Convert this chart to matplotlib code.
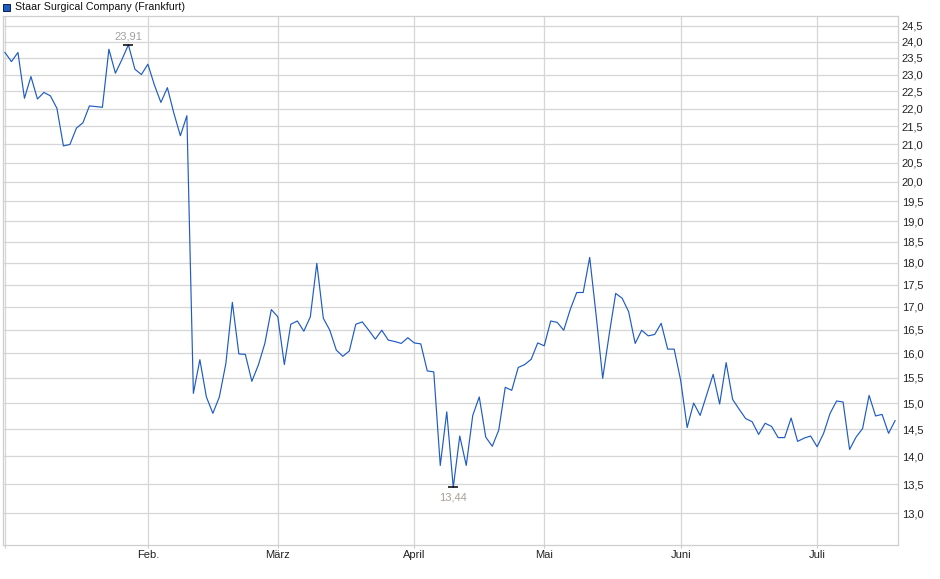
import matplotlib
matplotlib.use("Agg")
import matplotlib.pyplot as plt
from matplotlib.ticker import FixedLocator, FuncFormatter, NullLocator

# Daily closing prices (EUR), Staar Surgical in Frankfurt, early Jan to mid July
prices = [
    23.67, 23.39, 23.67, 22.30, 22.94, 22.28, 22.47, 22.37, 22.01, 20.96,
    21.00, 21.45, 21.60, 22.08, 22.06, 22.04, 23.77, 23.04, 23.45, 23.91,
    23.16, 23.00, 23.31, 22.69, 22.18, 22.61, 21.87, 21.24, 21.80, 15.19,
    15.87, 15.12, 14.80, 15.12, 15.79, 17.10, 15.99, 15.98, 15.43, 15.76,
    16.21, 16.94, 16.78, 15.77, 16.62, 16.69, 16.47, 16.78, 17.99, 16.75,
    16.49, 16.07, 15.94, 16.05, 16.62, 16.67, 16.49, 16.30, 16.49, 16.28,
    16.25, 16.21, 16.33, 16.22, 16.20, 15.64, 15.62, 13.83, 14.83, 13.44,
    14.37, 13.83, 14.76, 15.12, 14.35, 14.18, 14.48, 15.31, 15.25, 15.71,
    15.77, 15.88, 16.22, 16.16, 16.69, 16.66, 16.49, 16.94, 17.32, 17.32,
    18.13, 16.80, 15.49, 16.40, 17.30, 17.19, 16.89, 16.21, 16.49, 16.37,
    16.40, 16.64, 16.09, 16.09, 15.45, 14.53, 15.00, 14.76, 15.16, 15.57,
    14.98, 15.81, 15.07, 14.88, 14.70, 14.64, 14.40, 14.61, 14.55, 14.34,
    14.34, 14.71, 14.27, 14.33, 14.37, 14.17, 14.42, 14.80, 15.04, 15.02,
    14.12, 14.35, 14.51, 15.15, 14.75, 14.78, 14.42, 14.66,
]

# First trading day of each month (index into prices) and the labels
month_starts = [0, 22, 42, 63, 83, 104, 125]
month_labels = ["", "Feb.", "März", "April", "Mai", "Juni", "Juli"]

# Price levels shown on the right axis
price_ticks = [13.0, 13.5, 14.0, 14.5, 15.0, 15.5, 16.0, 16.5, 17.0, 17.5, 18.0,
               18.5, 19.0, 19.5, 20.0, 20.5, 21.0, 21.5, 22.0, 22.5, 23.0, 23.5,
               24.0, 24.5]

plt.rcParams["font.family"] = ["Liberation Sans", "DejaVu Sans"]

line_color = "#1f5cc0"
grid_color = "#d6d6d6"

fig = plt.figure(figsize=(9.4, 5.79), dpi=100)
ax = fig.add_axes([3 / 940, 34 / 579, 895 / 940, 529 / 579])

# Price line
x = list(range(len(prices)))
ax.plot(x, prices, color=line_color, linewidth=0.85, zorder=3)

# Logarithmic price scale as in the original chart
ax.set_yscale("log")
ax.set_ylim(12.47, 24.82)
ax.set_xlim(-0.3, len(prices) - 1 + 0.45)

ax.yaxis.set_major_locator(FixedLocator(price_ticks))
ax.yaxis.set_minor_locator(NullLocator())
ax.yaxis.set_major_formatter(FuncFormatter(lambda v, p: ("%.1f" % v).replace(".", ",")))
ax.yaxis.tick_right()
ax.tick_params(axis="y", which="both", length=0, pad=2.8, labelsize=8, labelcolor="#222222")

ax.xaxis.set_major_locator(FixedLocator(month_starts))
ax.set_xticklabels(month_labels)
ax.tick_params(axis="x", length=2, width=0.75, color="#c8c8c8", pad=1.5, labelsize=8,
               labelcolor="#222222")

# Grid and frame
ax.grid(True, color=grid_color, linewidth=0.9, zorder=0)
for side in ["top", "right", "bottom", "left"]:
    ax.spines[side].set_color("#cfcfcf")
    ax.spines[side].set_linewidth(0.9)

# Highest and lowest close markers
hi = prices.index(max(prices))
lo = prices.index(min(prices))
ax.plot(hi, prices[hi], marker="_", markersize=7, markeredgewidth=1.1, color="black", zorder=4)
ax.plot(lo, prices[lo], marker="_", markersize=7, markeredgewidth=1.1, color="black", zorder=4)
ax.annotate(("%.2f" % prices[hi]).replace(".", ","), (hi, prices[hi]), xytext=(0, 2.5),
            textcoords="offset points", ha="center", va="bottom", fontsize=8, color="#a0a0a0")
ax.annotate(("%.2f" % prices[lo]).replace(".", ","), (lo, prices[lo]), xytext=(0, -3.5),
            textcoords="offset points", ha="center", va="top", fontsize=8, color="#a89f95")

# Legend square and name in the top left corner
fig.patches.append(plt.Rectangle((3 / 940, 1 - 11 / 579), 7 / 940, 7 / 579, transform=fig.transFigure,
                                 facecolor=line_color, edgecolor="#0a1f50", linewidth=0.7))
fig.text(15 / 940, 1 - 6.5 / 579, "Staar Surgical Company (Frankfurt)", fontsize=7.7,
         va="center", ha="left", color="#111111")

fig.savefig("out.png", dpi=100)
